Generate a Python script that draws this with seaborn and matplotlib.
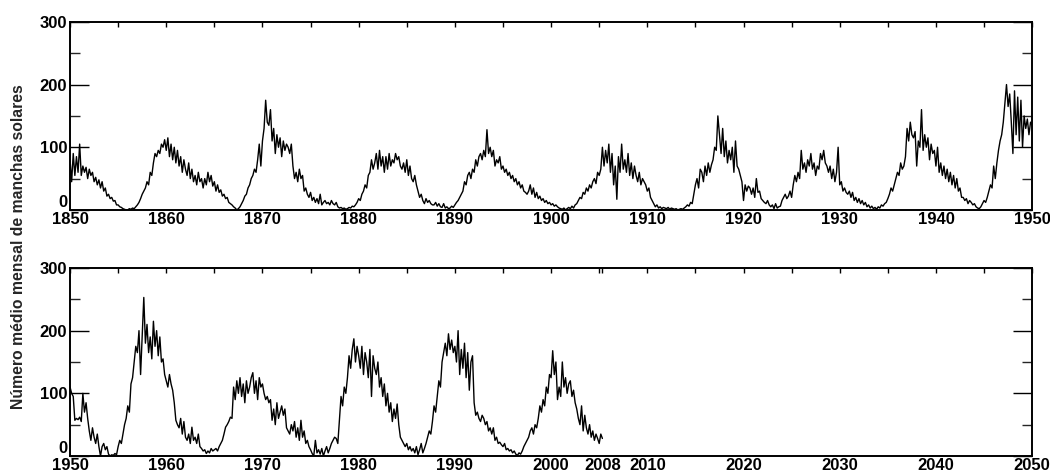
import matplotlib
matplotlib.use("Agg")
import matplotlib.pyplot as plt
from matplotlib.ticker import MultipleLocator
import numpy as np
import pandas as pd
import seaborn as sns

# --------------------------------------------------------------------------
# Data: sunspot numbers, 6 samples per year
# --------------------------------------------------------------------------
AMOSTRAS_POR_ANO = 6

manchas_1850_1950 = [
    80, 45, 90, 55, 85, 60,
    105, 55, 70, 60, 68, 50,
    65, 55, 60, 45, 52, 40,
    48, 35, 45, 30, 35, 22,
    25, 18, 20, 14, 15, 8,
    8, 5, 4, 2, 1, 0,
    0, 2, 1, 3, 2, 5,
    8, 12, 18, 25, 30, 35,
    45, 40, 60, 55, 75, 90,
    85, 95, 90, 105, 100, 112,
    95, 115, 85, 105, 80, 100,
    75, 95, 70, 85, 60, 80,
    65, 55, 75, 50, 65, 45,
    55, 40, 60, 45, 50, 35,
    50, 40, 60, 45, 55, 38,
    45, 30, 40, 28, 32, 22,
    25, 18, 20, 12, 10, 8,
    5, 3, 0, 2, 5, 10,
    15, 22, 25, 35, 40, 50,
    55, 65, 60, 80, 105, 70,
    110, 130, 175, 140, 135, 160,
    110, 130, 90, 120, 100, 115,
    85, 110, 95, 105, 100, 90,
    105, 70, 50, 60, 45, 65,
    50, 55, 30, 35, 25, 20,
    28, 15, 20, 12, 18, 10,
    25, 8, 12, 15, 10, 12,
    8, 15, 10, 8, 12, 5,
    3, 4, 2, 3, 1, 2,
    4, 3, 6, 5, 8, 12,
    18, 15, 25, 30, 40, 35,
    55, 60, 80, 65, 75, 90,
    65, 95, 70, 85, 60, 85,
    65, 90, 70, 80, 75, 90,
    80, 85, 70, 65, 75, 60,
    80, 55, 70, 50, 45, 55,
    40, 30, 20, 25, 15, 10,
    18, 12, 15, 10, 8, 8,
    12, 6, 10, 5, 4, 10,
    3, 5, 2, 3, 6, 4,
    8, 12, 15, 20, 25, 30,
    45, 40, 55, 60, 50, 65,
    60, 80, 70, 85, 90, 80,
    95, 85, 128, 90, 100, 85,
    95, 70, 80, 75, 85, 65,
    70, 60, 65, 55, 60, 50,
    55, 45, 50, 40, 45, 35,
    40, 30, 28, 25, 30, 40,
    25, 35, 20, 28, 18, 22,
    15, 18, 12, 15, 10, 12,
    8, 10, 6, 8, 5, 3,
    2, 1, 3, 0, 2, 4,
    2, 6, 3, 8, 10, 15,
    20, 18, 28, 25, 35, 30,
    40, 35, 45, 50, 42, 60,
    55, 65, 100, 70, 95, 75,
    105, 60, 90, 40, 70, 17,
    85, 60, 105, 65, 80, 60,
    90, 55, 75, 50, 70, 55,
    45, 60, 40, 50, 45, 40,
    30, 35, 20, 15, 10, 5,
    8, 3, 5, 2, 4, 3,
    2, 4, 1, 3, 2, 1,
    2, 0, 1, 2, 1, 3,
    5, 8, 6, 12, 10, 25,
    40, 50, 35, 65, 60, 45,
    70, 55, 75, 60, 72, 80,
    100, 95, 150, 120, 90, 130,
    85, 110, 75, 95, 80, 100,
    60, 110, 70, 65, 55, 45,
    15, 40, 30, 38, 35, 25,
    35, 20, 50, 28, 30, 18,
    15, 12, 10, 15, 8, 5,
    8, 2, 10, 3, 5, 6,
    15, 20, 25, 18, 22, 30,
    20, 40, 55, 45, 60, 50,
    95, 65, 75, 60, 80, 70,
    90, 65, 75, 55, 70, 65,
    90, 80, 95, 75, 70, 60,
    70, 50, 65, 45, 60, 100,
    40, 45, 30, 35, 28, 25,
    30, 20, 28, 15, 20, 12,
    18, 10, 15, 8, 12, 5,
    8, 3, 6, 2, 4, 1,
    5, 3, 8, 6, 10, 12,
    18, 25, 35, 30, 40, 50,
    60, 55, 75, 65, 70, 85,
    130, 110, 140, 120, 115, 125,
    70, 110, 100, 160, 95, 120,
    100, 115, 80, 105, 90, 95,
    70, 100, 60, 75, 55, 70,
    50, 65, 45, 60, 40, 55,
    35, 50, 30, 35, 20, 20,
    15, 18, 10, 15, 12, 8,
    10, 5, 3, 2, 5, 10,
    15, 12, 20, 30, 40, 35,
    70, 50, 75, 95, 110, 120,
    140, 170, 200, 165, 185, 140,
    90, 190, 120, 180, 110, 175,
    100, 150, 130, 145, 120, 140,
    135,
]

manchas_1950_2008 = [
    110, 100, 95, 57, 60, 58,
    62, 55, 100, 70, 85, 60,
    40, 25, 45, 30, 20, 35,
    15, 0, 15, 20, 10, 15,
    3, 0, 2, 1, 4, 2,
    15, 25, 20, 35, 50, 60,
    80, 70, 115, 125, 150, 175,
    165, 200, 130, 190, 253, 180,
    210, 165, 190, 155, 215, 175,
    200, 160, 190, 150, 155, 130,
    120, 110, 130, 115, 105, 85,
    57, 50, 45, 60, 35, 55,
    30, 25, 35, 20, 46, 25,
    30, 20, 35, 15, 12, 8,
    10, 4, 8, 5, 12, 8,
    10, 12, 8, 15, 20, 25,
    35, 46, 50, 55, 62, 60,
    110, 90, 120, 100, 125, 95,
    115, 85, 120, 100, 110, 125,
    133, 100, 120, 90, 125, 110,
    115, 100, 90, 95, 85, 90,
    57, 75, 50, 85, 60, 70,
    80, 65, 75, 45, 40, 35,
    50, 40, 55, 30, 45, 25,
    57, 30, 40, 20, 25, 15,
    10, 4, 0, 25, 5, 10,
    3, 12, 0, 8, 15, 5,
    12, 20, 25, 30, 28, 20,
    57, 95, 80, 110, 100, 125,
    160, 140, 170, 187, 150, 175,
    160, 140, 175, 130, 165, 150,
    125, 170, 95, 160, 140, 130,
    150, 110, 125, 95, 115, 80,
    100, 70, 85, 55, 75, 60,
    83, 50, 30, 25, 20, 15,
    20, 10, 15, 8, 12, 5,
    15, 2, 10, 20, 5, 12,
    20, 30, 40, 35, 55, 80,
    70, 95, 120, 110, 150, 165,
    180, 160, 195, 170, 185, 165,
    175, 150, 200, 130, 170, 140,
    180, 125, 165, 105, 150, 160,
    85, 65, 70, 60, 55, 65,
    60, 50, 55, 40, 45, 35,
    45, 25, 30, 20, 22, 18,
    15, 20, 10, 12, 8, 10,
    5, 8, 3, 1, 5, 3,
    8, 15, 20, 25, 30, 40,
    45, 35, 50, 45, 60, 80,
    70, 90, 80, 110, 100, 130,
    125, 168, 130, 150, 90, 110,
    95, 150, 110, 125, 100, 115,
    120, 95, 105, 85, 75, 60,
    50, 80, 40, 65, 45, 35,
    50, 30, 40, 25, 35, 28,
    20, 35, 28,
]

painel_topo = {"inicio": 1850, "fim": 1950, "valores": manchas_1850_1950}
painel_base = {"inicio": 1950, "fim": 2050, "valores": manchas_1950_2008}

y_ticks = [0, 100, 200, 300]
rotulo_y = "Número médio mensal de manchas solares"
rotulo_fim_dados = "2008"

# --------------------------------------------------------------------------
# Style
# --------------------------------------------------------------------------
sns.set_style("white")
plt.rcParams["font.family"] = ["Liberation Sans Narrow", "Liberation Sans", "DejaVu Sans"]
plt.rcParams["font.weight"] = "bold"
TICK_FS = 12


def to_frame(painel):
    vals = np.asarray(painel["valores"], dtype=float)
    anos = painel["inicio"] + np.arange(len(vals)) / AMOSTRAS_POR_ANO
    return pd.DataFrame({"ano": anos, "manchas": vals})


def style_axis(ax, painel):
    ax.set_xlim(painel["inicio"], painel["fim"])
    ax.set_ylim(0, 300)
    ax.set_xlabel("")
    ax.set_ylabel("")
    for sp in ax.spines.values():
        sp.set_visible(True)
        sp.set_linewidth(1.4)
        sp.set_color("black")
    ax.xaxis.set_major_locator(MultipleLocator(10))
    ax.xaxis.set_minor_locator(MultipleLocator(5))
    ax.set_yticks(y_ticks)
    ax.yaxis.set_minor_locator(MultipleLocator(50))
    ax.tick_params(axis="x", which="both", direction="in", top=True, bottom=False,
                   length=3.5, width=1, pad=1.5, labelsize=TICK_FS, colors="black")
    ax.tick_params(axis="y", which="major", direction="in", left=True, right=True,
                   length=14, width=1, pad=2, labelsize=TICK_FS, colors="black")
    ax.tick_params(axis="y", which="minor", direction="in", left=True, right=True,
                   length=7, width=1)
    for lab in ax.get_xticklabels() + ax.get_yticklabels():
        lab.set_fontweight("bold")


fig = plt.figure(figsize=(10.5, 4.76), dpi=100)
# pixel layout: top panel 22..210, bottom panel 268..456
ax_top = fig.add_axes([0.0667, 0.559, 0.9163, 0.395])
ax_bot = fig.add_axes([0.0667, 0.042, 0.9163, 0.395])

for ax, painel in [(ax_top, painel_topo), (ax_bot, painel_base)]:
    df = to_frame(painel)
    sns.lineplot(data=df, x="ano", y="manchas", ax=ax, color="black",
                 linewidth=1.0, estimator=None)
    style_axis(ax, painel)
    df_last = df["ano"].iloc[-1]
    if painel is painel_base:
        ticks = [t for t in range(1950, 2051, 10)]
        ticks = sorted(ticks + [df_last])
        ax.set_xticks(ticks)
        ax.set_xticklabels([rotulo_fim_dados if t == df_last else str(int(t)) for t in ticks],
                           fontweight="bold")
    # the zero label sits just above the axis line
    ax.set_yticklabels([str(v) for v in y_ticks], fontweight="bold")
    for lab in ax.get_yticklabels():
        if lab.get_text() == "0":
            lab.set_va("bottom")

fig.text(0.018, 0.481, rotulo_y, rotation=90, ha="center", va="center",
         fontsize=11.3, fontweight="bold")

fig.savefig("out.png", dpi=100, facecolor="white")
